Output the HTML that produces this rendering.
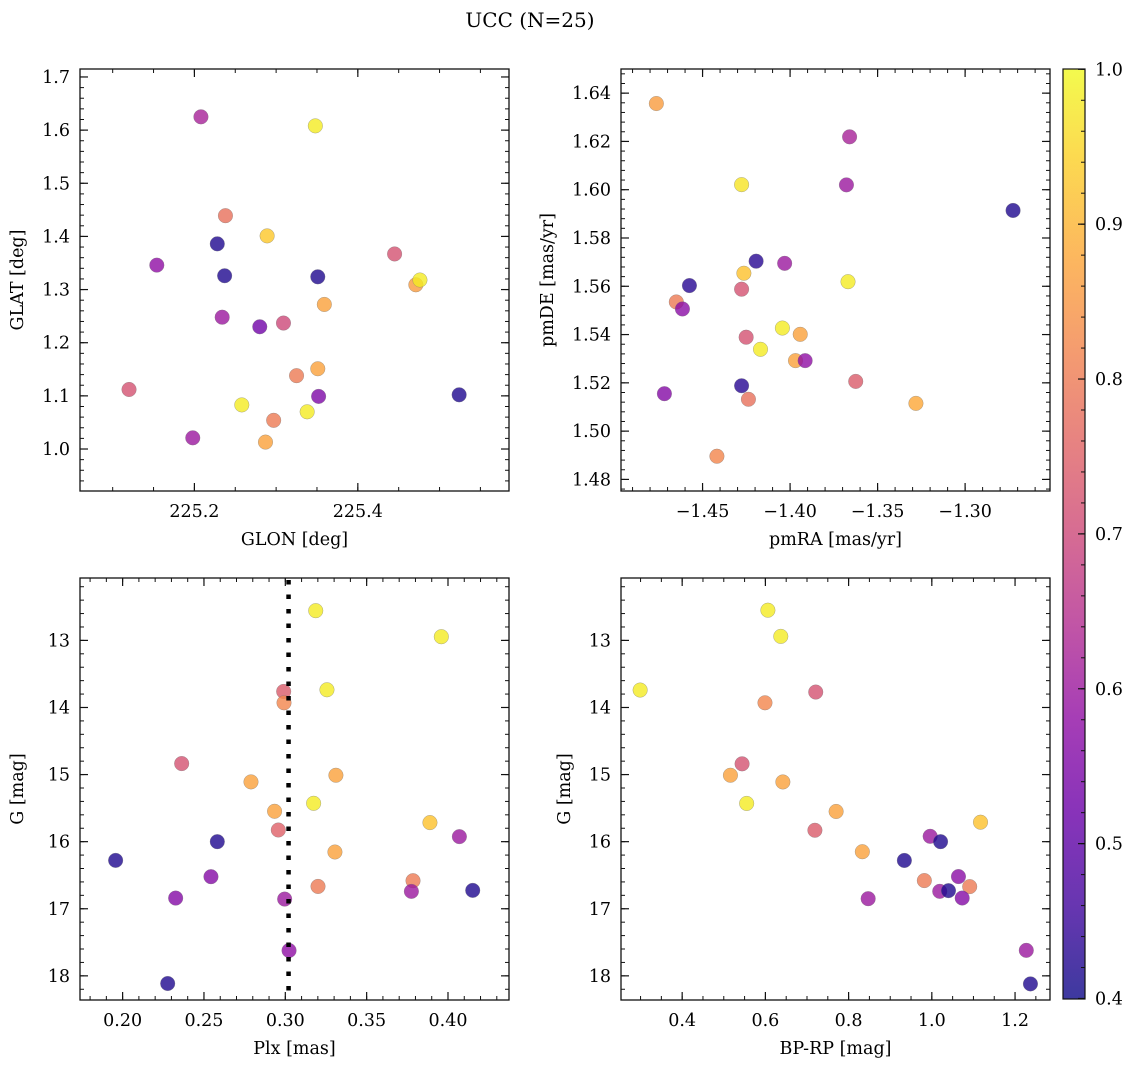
<!DOCTYPE html>
<html><head><meta charset="utf-8"><style>
html,body{margin:0;padding:0;background:#fff;}
svg{display:block;font-family:"DejaVu Serif","Liberation Serif",serif;}
</style></head><body>
<svg id="fig" width="1136" height="1068" viewBox="0 0 1136 1068" xmlns="http://www.w3.org/2000/svg">
<defs>
<linearGradient id="plasma" x1="0" y1="1" x2="0" y2="0">
<stop offset="0" stop-color="#0d0887"/><stop offset="0.1" stop-color="#41049d"/><stop offset="0.2" stop-color="#6a00a8"/><stop offset="0.3" stop-color="#8f0da4"/><stop offset="0.4" stop-color="#b12a90"/><stop offset="0.5" stop-color="#cc4778"/><stop offset="0.6" stop-color="#e16462"/><stop offset="0.7" stop-color="#f2844b"/><stop offset="0.8" stop-color="#fca636"/><stop offset="0.9" stop-color="#fcce25"/><stop offset="1" stop-color="#f0f921"/>
</linearGradient>
</defs>
<text x="530" y="27" font-size="20" text-anchor="middle">UCC (N=25)</text>
</svg>
<script>
// ---- Panel 1: GLON vs GLAT ----
const glon = [225.208,225.348,225.238,225.289,225.228,225.154,225.237,225.351,225.445,225.471,225.476,225.359,225.234,225.280,225.309,225.351,225.325,225.120,225.258,225.352,225.524,225.297,225.338,225.198,225.287];
const glat = [1.625,1.608,1.439,1.401,1.386,1.346,1.326,1.324,1.367,1.309,1.318,1.272,1.248,1.230,1.237,1.151,1.138,1.112,1.083,1.099,1.102,1.054,1.070,1.021,1.013];
const probTL = [0.62,0.98,0.78,0.93,0.42,0.58,0.42,0.42,0.72,0.86,0.98,0.87,0.60,0.53,0.70,0.87,0.80,0.72,0.98,0.55,0.42,0.80,0.98,0.60,0.87];
// ---- Panel 2: pmRA vs pmDE ----
const pmra = [-1.4764,-1.366,-1.4277,-1.3678,-1.2726,-1.4194,-1.4031,-1.4264,-1.3669,-1.4575,-1.4277,-1.465,-1.4615,-1.4044,-1.3942,-1.4251,-1.4169,-1.3969,-1.3914,-1.3625,-1.4277,-1.4718,-1.4238,-1.3281,-1.4418];
const pmde = [1.6357,1.6219,1.6021,1.602,1.5914,1.5704,1.5695,1.5654,1.5619,1.5603,1.5588,1.5535,1.5506,1.5427,1.5401,1.5389,1.5339,1.5292,1.5292,1.5206,1.5188,1.5155,1.5132,1.5115,1.4896];
const probTR = [0.86,0.62,0.97,0.60,0.42,0.43,0.60,0.92,0.98,0.43,0.72,0.80,0.57,0.98,0.87,0.72,0.98,0.87,0.58,0.74,0.43,0.56,0.78,0.88,0.82];
// ---- Panel 3: Plx vs G ----
const plx = [0.3187,0.3959,0.299,0.2992,0.3256,0.2363,0.2789,0.3311,0.2934,0.3174,0.3889,0.2957,0.407,0.2582,0.3305,0.1957,0.2543,0.3785,0.3201,0.3775,0.4152,0.2326,0.2996,0.3023,0.2277];
const gmagBL = [12.557,12.945,13.761,13.930,13.736,14.836,15.109,15.010,15.547,15.428,15.716,15.826,15.925,16.0,16.154,16.279,16.522,16.582,16.667,16.741,16.726,16.841,16.856,17.622,18.114];
const probBL = [0.98,0.98,0.74,0.82,0.98,0.72,0.87,0.87,0.87,0.98,0.92,0.75,0.60,0.42,0.87,0.42,0.56,0.80,0.80,0.60,0.42,0.56,0.60,0.58,0.42];
const plxLine = [0.302];
// ---- Panel 4: BP-RP vs G ----
const bprp = [0.606,0.637,0.299,0.721,0.599,0.544,0.516,0.642,0.555,0.770,0.719,1.117,0.996,1.021,0.833,0.934,1.064,0.982,1.091,1.019,1.040,1.073,0.847,1.227,1.237];
const gmagBR = [12.55,12.94,13.74,13.77,13.93,14.84,15.01,15.11,15.43,15.55,15.83,15.71,15.92,16.0,16.15,16.28,16.52,16.58,16.67,16.74,16.73,16.84,16.85,17.62,18.12];
const probBR = [0.98,0.98,0.98,0.72,0.82,0.72,0.87,0.87,0.98,0.87,0.74,0.92,0.60,0.42,0.87,0.42,0.57,0.80,0.80,0.60,0.42,0.56,0.60,0.60,0.42];
// ---- tick labels ----
const tlXTicks = [225.2,225.4];
const tlXLabels = ["225.2","225.4"];
const tlYTicks = [1.0,1.1,1.2,1.3,1.4,1.5,1.6,1.7];
const tlYLabels = ["1.0","1.1","1.2","1.3","1.4","1.5","1.6","1.7"];
const trXTicks = [-1.45,-1.40,-1.35,-1.30];
const trXLabels = ["\u22121.45","\u22121.40","\u22121.35","\u22121.30"];
const trYTicks = [1.48,1.50,1.52,1.54,1.56,1.58,1.60,1.62,1.64];
const trYLabels = ["1.48","1.50","1.52","1.54","1.56","1.58","1.60","1.62","1.64"];
const blXTicks = [0.20,0.25,0.30,0.35,0.40];
const blXLabels = ["0.20","0.25","0.30","0.35","0.40"];
const gTicks = [13,14,15,16,17,18];
const gLabels = ["13","14","15","16","17","18"];
const brXTicks = [0.4,0.6,0.8,1.0,1.2];
const brXLabels = ["0.4","0.6","0.8","1.0","1.2"];
const cbTicks = [0.4,0.5,0.6,0.7,0.8,0.9,1.0];
const cbLabels = ["0.4","0.5","0.6","0.7","0.8","0.9","1.0"];

const NS = "http://www.w3.org/2000/svg";
const svg = document.getElementById('fig');
const stops = [[13,8,135],[65,4,157],[106,0,168],[143,13,164],[177,42,144],[204,71,120],[225,100,98],[242,132,75],[252,166,54],[252,206,37],[240,249,33]];
function plasma(p){
  let t = (p-0.4)/0.6; t = Math.max(0,Math.min(1,t));
  const f = t*10, i = Math.min(9,Math.floor(f)), r = f-i;
  const a = stops[i], b = stops[i+1];
  return 'rgb('+a.map((v,k)=>Math.round(v+(b[k]-v)*r)).join(',')+')';
}
function mk(tag, attrs, parent){
  const e = document.createElementNS(NS, tag);
  for (const k in attrs) e.setAttribute(k, attrs[k]);
  (parent||svg).appendChild(e);
  return e;
}
function scale(d0,d1,r0,r1){ return v => r0 + (v-d0)/(d1-d0)*(r1-r0); }
const FS = 17.5;

function panel(name, box, xd, yd, xt, xl, xminor, yt, yl, yminor, xs, ys, ps, xlabel, ylabel, ylabX){
  const g = mk('g', {});
  
  
  const X = scale(xd[0], xd[1], box.x0, box.x1);
  const Y = scale(yd[0], yd[1], box.y1, box.y0);
  for (let i=0;i<xs.length;i++){
    const c = mk('circle', {cx:X(xs[i]), cy:Y(ys[i]), r:7.3, fill:plasma(ps[i]), 'fill-opacity':0.8, stroke:'#777', 'stroke-opacity':0.6, 'stroke-width':0.5}, g);
    
    
  }
  const fr = mk('rect', {x:box.x0, y:box.y0, width:box.x1-box.x0, height:box.y1-box.y0, fill:'none', stroke:'#111', 'stroke-width':1.3}, g);
  
  
  const lo = Math.min(xd[0],xd[1]), hi = Math.max(xd[0],xd[1]);
  for (let v = Math.ceil(lo/xminor)*xminor; v <= hi; v += xminor){
    const x = X(v);
    mk('line',{x1:x,x2:x,y1:box.y1,y2:box.y1-4,stroke:'#111','stroke-width':1},g);
    mk('line',{x1:x,x2:x,y1:box.y0,y2:box.y0+4,stroke:'#111','stroke-width':1},g);
  }
  const ylo = Math.min(yd[0],yd[1]), yhi = Math.max(yd[0],yd[1]);
  for (let v = Math.ceil(ylo/yminor)*yminor; v <= yhi; v += yminor){
    const y = Y(v);
    mk('line',{x1:box.x0,x2:box.x0+4,y1:y,y2:y,stroke:'#111','stroke-width':1},g);
    mk('line',{x1:box.x1,x2:box.x1-4,y1:y,y2:y,stroke:'#111','stroke-width':1},g);
  }
  xt.forEach((v,i)=>{
    const x = X(v);
    mk('line',{x1:x,x2:x,y1:box.y1,y2:box.y1-8,stroke:'#111','stroke-width':1.2},g);
    mk('line',{x1:x,x2:x,y1:box.y0,y2:box.y0+8,stroke:'#111','stroke-width':1.2},g);
    const t = mk('text',{x:x,y:box.y1+26,'font-size':FS,'text-anchor':'middle'},g);
    t.textContent = xl[i];
    
    
  });
  yt.forEach((v,i)=>{
    const y = Y(v);
    mk('line',{x1:box.x0,x2:box.x0+8,y1:y,y2:y,stroke:'#111','stroke-width':1.2},g);
    mk('line',{x1:box.x1,x2:box.x1-8,y1:y,y2:y,stroke:'#111','stroke-width':1.2},g);
    const t = mk('text',{x:box.x0-10,y:y+6,'font-size':FS,'text-anchor':'end'},g);
    t.textContent = yl[i];
    
    
  });
  const xlb = mk('text',{x:(box.x0+box.x1)/2,y:box.y1+54,'font-size':FS,'text-anchor':'middle'},g);
  xlb.textContent = xlabel;
  
  
  const cy = (box.y0+box.y1)/2;
  const ylb = mk('text',{x:ylabX,y:cy,'font-size':FS,'text-anchor':'middle',transform:'rotate(-90 '+ylabX+' '+cy+')'},g);
  ylb.textContent = ylabel;
  
  
  return {X, Y, g};
}

panel('glon-glat-panel', {x0:80,x1:509,y0:69,y1:491}, [225.060,225.585], [0.921,1.715],
  tlXTicks, tlXLabels, 0.05, tlYTicks, tlYLabels, 0.02, glon, glat, probTL, 'GLON [deg]', 'GLAT [deg]', 23);
panel('pm-panel', {x0:621,x1:1050,y0:69,y1:491}, [-1.4966,-1.2515], [1.4752,1.6500],
  trXTicks, trXLabels, 0.01, trYTicks, trYLabels, 0.004, pmra, pmde, probTR, 'pmRA [mas/yr]', 'pmDE [mas/yr]', 553);
const bl = panel('plx-g-panel', {x0:80,x1:509,y0:578,y1:1000}, [0.1738,0.4375], [18.36,12.07],
  blXTicks, blXLabels, 0.01, gTicks, gLabels, 0.2, plx, gmagBL, probBL, 'Plx [mas]', 'G [mag]', 23);
plxLine.forEach(v=>{
  const l = mk('line',{x1:bl.X(v),x2:bl.X(v),y1:580,y2:1000,stroke:'#000','stroke-width':4.5,'stroke-dasharray':'4.5 10'}, bl.g);
  
  
});
panel('cmd-panel', {x0:621,x1:1050,y0:578,y1:1000}, [0.253,1.284], [18.36,12.07],
  brXTicks, brXLabels, 0.05, gTicks, gLabels, 0.2, bprp, gmagBR, probBR, 'BP-RP [mag]', 'G [mag]', 570);

const cb = mk('g',{});


const CY = scale(0.4, 1.0, 998.5, 69.3);
mk('rect',{x:1063,y:69,width:22,height:930,fill:'url(#plasma)','fill-opacity':0.8},cb);
mk('rect',{x:1063,y:69,width:22,height:930,fill:'none',stroke:'#111','stroke-width':1.2},cb);
for (let v=0.4; v<=1.0001; v+=0.02){
  mk('line',{x1:1085,x2:1081,y1:CY(v),y2:CY(v),stroke:'#111','stroke-width':1},cb);
}
cbTicks.forEach((v,i)=>{
  mk('line',{x1:1085,x2:1078,y1:CY(v),y2:CY(v),stroke:'#111','stroke-width':1.2},cb);
  const t = mk('text',{x:1095,y:CY(v)+6,'font-size':FS},cb);
  t.textContent = cbLabels[i];
  
  
});
</script>
</body></html>
